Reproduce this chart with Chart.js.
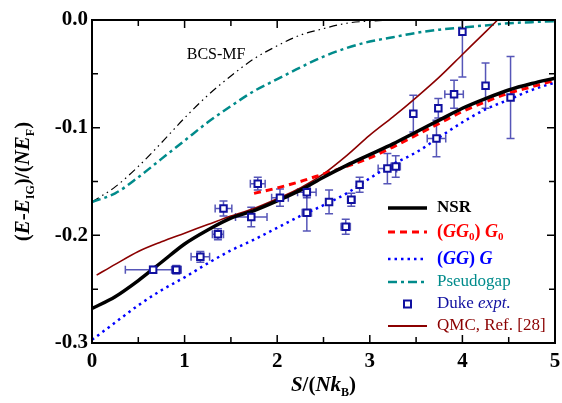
<!DOCTYPE html>
<html>
<head>
<meta charset="utf-8">
<script src="https://cdn.jsdelivr.net/npm/chart.js@4/dist/chart.umd.min.js"></script>
<style>
  html, body { margin: 0; padding: 0; background: #fff; }
  #wrap { width: 562px; height: 403px; }
</style>
</head>
<body>
<div id="wrap"><canvas id="energyChart"></canvas></div>
<script>
// S/(N kB) grid used by the theory curves
const gridS = [0, 0.25, 0.5, 0.75, 1.0, 1.25, 1.5, 1.75, 2.0, 2.25, 2.5, 2.75, 3.0, 3.25, 3.5, 3.75, 4.0, 4.25, 4.5, 4.75, 5.0];

const nsrE = [-0.268, -0.257, -0.242, -0.225, -0.208, -0.195, -0.184, -0.177, -0.168, -0.158, -0.146, -0.135, -0.125, -0.115, -0.104, -0.093, -0.082, -0.073, -0.065, -0.059, -0.054];
const ggE  = [-0.297, -0.281, -0.265, -0.251, -0.239, -0.226, -0.214, -0.204, -0.193, -0.182, -0.172, -0.161, -0.147, -0.134, -0.123, -0.109, -0.095, -0.083, -0.074, -0.065, -0.058];
const pgE  = [-0.169, -0.161, -0.146, -0.129, -0.112, -0.095, -0.080, -0.066, -0.055, -0.044, -0.034, -0.026, -0.020, -0.016, -0.012, -0.009, -0.007, -0.005, -0.003, -0.002, -0.001];

const gg0S = [1.75, 2.0, 2.25, 2.5, 2.75, 3.0, 3.25, 3.5, 3.75, 4.0, 4.25, 4.5, 4.75, 5.0];
const gg0E = [-0.161, -0.156, -0.150, -0.143, -0.136, -0.128, -0.118, -0.107, -0.096, -0.085, -0.076, -0.068, -0.062, -0.056];

const bcsS = [0, 0.25, 0.5, 0.75, 1.0, 1.25, 1.5, 1.75, 2.0, 2.25, 2.5, 2.75, 3.0, 3.25];
const bcsE = [-0.169, -0.155, -0.136, -0.114, -0.091, -0.070, -0.052, -0.036, -0.024, -0.014, -0.008, -0.003, -0.001, 0.0];

const qmcS = [0.05, 0.25, 0.5, 0.75, 1.0, 1.25, 1.5, 1.75, 2.0, 2.25, 2.5, 2.75, 3.0, 3.25, 3.5, 3.75, 4.0, 4.25, 4.38];
const qmcE = [-0.237, -0.227, -0.215, -0.206, -0.198, -0.190, -0.182, -0.175, -0.166, -0.156, -0.143, -0.126, -0.107, -0.090, -0.072, -0.053, -0.032, -0.011, 0.0];

// Duke experiment
const dukeS    = [0.66, 0.91, 1.17, 1.36, 1.42, 1.72, 1.79, 2.03, 2.32, 2.32, 2.56, 2.74, 2.80, 2.89, 3.19, 3.28, 3.47, 3.72, 3.74, 3.91, 4.00, 4.25, 4.52];
const dukeE    = [-0.232, -0.232, -0.220, -0.199, -0.175, -0.183, -0.152, -0.165, -0.160, -0.179, -0.169, -0.192, -0.167, -0.153, -0.138, -0.136, -0.087, -0.110, -0.082, -0.069, -0.011, -0.061, -0.072];
const dukeSErr = [0.30, 0.05, 0.10, 0.06, 0.09, 0.17, 0.08, 0.09, 0.10, 0.05, 0, 0.05, 0.04, 0, 0.10, 0.05, 0, 0.10, 0, 0.10, 0, 0, 0];
const dukeEErr = [0.003, 0.004, 0.005, 0.005, 0.007, 0.009, 0.006, 0.008, 0.005, 0.017, 0.011, 0.007, 0.006, 0.007, 0.014, 0.010, 0.017, 0.017, 0.009, 0.013, 0.042, 0.021, 0.038];

// axis ticks
const xMajor = [0, 1, 2, 3, 4, 5];
const xMinor = [0.5, 1.5, 2.5, 3.5, 4.5];
const yMajor = [0, -0.1, -0.2, -0.3];
const yMinor = [-0.05, -0.15, -0.25];

const SERIF = '"Liberation Serif", "DejaVu Serif", serif';

function pts(xs, ys) {
    return xs.map((x, i) => ({ x: x, y: ys[i] }));
}

function lineSet(label, xs, ys, color, width, dash, order) {
    return {
        label: label,
        data: pts(xs, ys),
        showLine: true,
        borderColor: color,
        borderWidth: width,
        borderDash: dash,
        pointRadius: 0,
        cubicInterpolationMode: 'monotone',
        fill: false,
        order: order
    };
}

function drawRuns(ctx, x, y, runs) {
    runs.forEach(r => {
        ctx.font = r.font;
        ctx.fillStyle = r.color;
        ctx.fillText(r.t, x, y + (r.dy || 0));
        x += ctx.measureText(r.t).width;
    });
    return x;
}

function runsWidth(ctx, runs) {
    let w = 0;
    runs.forEach(r => { ctx.font = r.font; w += ctx.measureText(r.t).width; });
    return w;
}

// error bars under the markers
const errorBars = {
    id: 'errorBars',
    beforeDatasetsDraw(chart) {
        const ctx = chart.ctx, xs = chart.scales.x, ys = chart.scales.y, a = chart.chartArea;
        ctx.save();
        ctx.beginPath();
        ctx.rect(a.left, a.top, a.right - a.left, a.bottom - a.top);
        ctx.clip();
        ctx.strokeStyle = 'rgba(30,30,160,0.75)';
        ctx.lineWidth = 1.5;
        const cap = 4;
        dukeS.forEach((s, i) => {
            const px = xs.getPixelForValue(s), py = ys.getPixelForValue(dukeE[i]);
            ctx.beginPath();
            if (dukeEErr[i] > 0) {
                const t = ys.getPixelForValue(dukeE[i] + dukeEErr[i]);
                const b = ys.getPixelForValue(dukeE[i] - dukeEErr[i]);
                ctx.moveTo(px, t); ctx.lineTo(px, b);
                ctx.moveTo(px - cap, t); ctx.lineTo(px + cap, t);
                ctx.moveTo(px - cap, b); ctx.lineTo(px + cap, b);
            }
            if (dukeSErr[i] > 0) {
                const l = xs.getPixelForValue(s - dukeSErr[i]);
                const r = xs.getPixelForValue(s + dukeSErr[i]);
                ctx.moveTo(l, py); ctx.lineTo(r, py);
                ctx.moveTo(l, py - cap); ctx.lineTo(l, py + cap);
                ctx.moveTo(r, py - cap); ctx.lineTo(r, py + cap);
            }
            ctx.stroke();
        });
        ctx.restore();
    }
};

// frame, inward ticks, titles, legend, BCS-MF label
const decorations = {
    id: 'decorations',
    afterDraw(chart) {
        const ctx = chart.ctx, xs = chart.scales.x, ys = chart.scales.y, a = chart.chartArea;
        ctx.save();
        ctx.strokeStyle = '#000';
        ctx.lineWidth = 2;
        ctx.strokeRect(a.left, a.top, a.right - a.left, a.bottom - a.top);

        ctx.lineWidth = 1.5;
        ctx.beginPath();
        const tick = (v, len, horiz) => {
            if (horiz) {
                const p = xs.getPixelForValue(v);
                ctx.moveTo(p, a.bottom); ctx.lineTo(p, a.bottom - len);
                ctx.moveTo(p, a.top); ctx.lineTo(p, a.top + len);
            } else {
                const p = ys.getPixelForValue(v);
                ctx.moveTo(a.left, p); ctx.lineTo(a.left + len, p);
                ctx.moveTo(a.right, p); ctx.lineTo(a.right - len, p);
            }
        };
        xMajor.forEach(v => tick(v, 8, true));
        xMinor.forEach(v => tick(v, 6, true));
        yMajor.forEach(v => tick(v, 8, false));
        yMinor.forEach(v => tick(v, 6, false));
        ctx.stroke();

        ctx.textBaseline = 'alphabetic';
        const bi = sz => 'bold italic ' + sz + 'px ' + SERIF;
        const b = sz => 'bold ' + sz + 'px ' + SERIF;

        // x title
        const xRuns = [
            { t: 'S', font: bi(21), color: '#000' },
            { t: '/(', font: b(21), color: '#000' },
            { t: 'Nk', font: bi(21), color: '#000' },
            { t: 'B', font: b(12), color: '#000', dy: 5 },
            { t: ')', font: b(21), color: '#000' }
        ];
        const cx = (a.left + a.right) / 2;
        drawRuns(ctx, cx - runsWidth(ctx, xRuns) / 2, 391, xRuns);

        // y title
        const yRuns = [
            { t: '(', font: b(21), color: '#000' },
            { t: 'E', font: bi(21), color: '#000' },
            { t: '-', font: b(21), color: '#000' },
            { t: 'E', font: bi(21), color: '#000' },
            { t: 'IG', font: b(12), color: '#000', dy: 5 },
            { t: ')/(', font: b(21), color: '#000' },
            { t: 'NE', font: bi(21), color: '#000' },
            { t: 'F', font: b(12), color: '#000', dy: 5 },
            { t: ')', font: b(21), color: '#000' }
        ];
        ctx.save();
        ctx.translate(29, (a.top + a.bottom) / 2);
        ctx.rotate(-Math.PI / 2);
        drawRuns(ctx, -runsWidth(ctx, yRuns) / 2, 0, yRuns);
        ctx.restore();

        // BCS-MF label
        ctx.font = '16px ' + SERIF;
        ctx.fillStyle = '#000';
        ctx.textAlign = 'center';
        ctx.fillText('BCS-MF', xs.getPixelForValue(1.34), ys.getPixelForValue(-0.036));
        ctx.textAlign = 'left';

        // legend
        ctx.textBaseline = 'middle';
        const lx0 = 388, lx1 = 427, tx = 437;
        const entry = (yy, draw, runs) => {
            draw(yy);
            drawRuns(ctx, tx, yy, runs);
        };
        const sample = (color, width, dash) => yy => {
            ctx.save();
            ctx.strokeStyle = color; ctx.lineWidth = width; ctx.setLineDash(dash);
            ctx.beginPath(); ctx.moveTo(lx0, yy); ctx.lineTo(lx1, yy); ctx.stroke();
            ctx.restore();
        };
        const red = '#ff0000', blue = '#0000ff', teal = '#008b8b', navy = '#1010a0', maroon = '#8b0000';
        entry(208, sample('#000', 3.5, []), [{ t: 'NSR', font: b(17), color: '#000' }]);
        entry(232, sample(red, 3, [7, 5]), [
            { t: '(', font: b(18), color: red },
            { t: 'GG', font: bi(18), color: red },
            { t: '0', font: b(11), color: red, dy: 5 },
            { t: ') ', font: b(18), color: red },
            { t: 'G', font: bi(18), color: red },
            { t: '0', font: b(11), color: red, dy: 5 }
        ]);
        entry(259, sample(blue, 2.5, [2.5, 4]), [
            { t: '(', font: b(18), color: blue },
            { t: 'GG', font: bi(18), color: blue },
            { t: ') ', font: b(18), color: blue },
            { t: 'G', font: bi(18), color: blue }
        ]);
        entry(282, sample(teal, 2.5, [9, 4, 3, 4]), [{ t: 'Pseudogap', font: '17px ' + SERIF, color: teal }]);
        entry(304, yy => {
            ctx.save();
            ctx.fillStyle = '#fff'; ctx.strokeStyle = navy; ctx.lineWidth = 2;
            ctx.fillRect(404, yy - 3.5, 7, 7); ctx.strokeRect(404, yy - 3.5, 7, 7);
            ctx.restore();
        }, [
            { t: 'Duke ', font: '17px ' + SERIF, color: navy },
            { t: 'expt.', font: 'italic 17px ' + SERIF, color: navy }
        ]);
        entry(326, sample(maroon, 1.8, []), [{ t: 'QMC, Ref. [28]', font: '17px ' + SERIF, color: maroon }]);
        ctx.restore();
    }
};

const config = {
    type: 'scatter',
    data: {
        datasets: [
            {
                label: 'Duke expt.',
                data: pts(dukeS, dukeE),
                pointStyle: 'rect',
                pointRadius: 4.6,
                borderWidth: 2,
                borderColor: '#1010a0',
                backgroundColor: '#ffffff',
                order: 0
            },
            lineSet('NSR', gridS, nsrE, '#000000', 3.5, [], 1),
            lineSet('(GG0)G0', gg0S, gg0E, '#ff0000', 3, [7, 5], 2),
            lineSet('(GG)G', gridS, ggE, '#0000ff', 2.5, [2.5, 4], 3),
            lineSet('QMC, Ref. [28]', qmcS, qmcE, '#8b0000', 1.6, [], 4),
            lineSet('Pseudogap', gridS, pgE, '#008b8b', 2.5, [9, 4, 3, 4], 5),
            lineSet('BCS-MF', bcsS, bcsE, '#000000', 1.2, [8, 4, 1.5, 4, 1.5, 4], 6)
        ]
    },
    options: {
        responsive: true,
        maintainAspectRatio: false,
        animation: false,
        layout: { padding: { top: 20, right: 7, left: 0, bottom: 0 } },
        plugins: { legend: { display: false }, tooltip: { enabled: false } },
        scales: {
            x: {
                type: 'linear', min: 0, max: 5,
                grid: { display: false, drawTicks: false },
                border: { display: false },
                ticks: {
                    stepSize: 1, padding: 6, color: '#000',
                    font: { family: SERIF, weight: 'bold', size: 21 },
                    callback: v => String(v)
                },
                afterFit: s => { s.height = 60; s.paddingLeft = 0; s.paddingRight = 0; }
            },
            y: {
                type: 'linear', min: -0.3, max: 0,
                grid: { display: false, drawTicks: false },
                border: { display: false },
                ticks: {
                    stepSize: 0.1, padding: 4, color: '#000',
                    font: { family: SERIF, weight: 'bold', size: 21 },
                    callback: v => v.toFixed(1)
                },
                afterFit: s => { s.width = 92; s.paddingTop = 0; s.paddingBottom = 0; }
            }
        }
    },
    plugins: [errorBars, decorations]
};

const myChart = new Chart(document.getElementById('energyChart'), config);
</script>
</body>
</html>
